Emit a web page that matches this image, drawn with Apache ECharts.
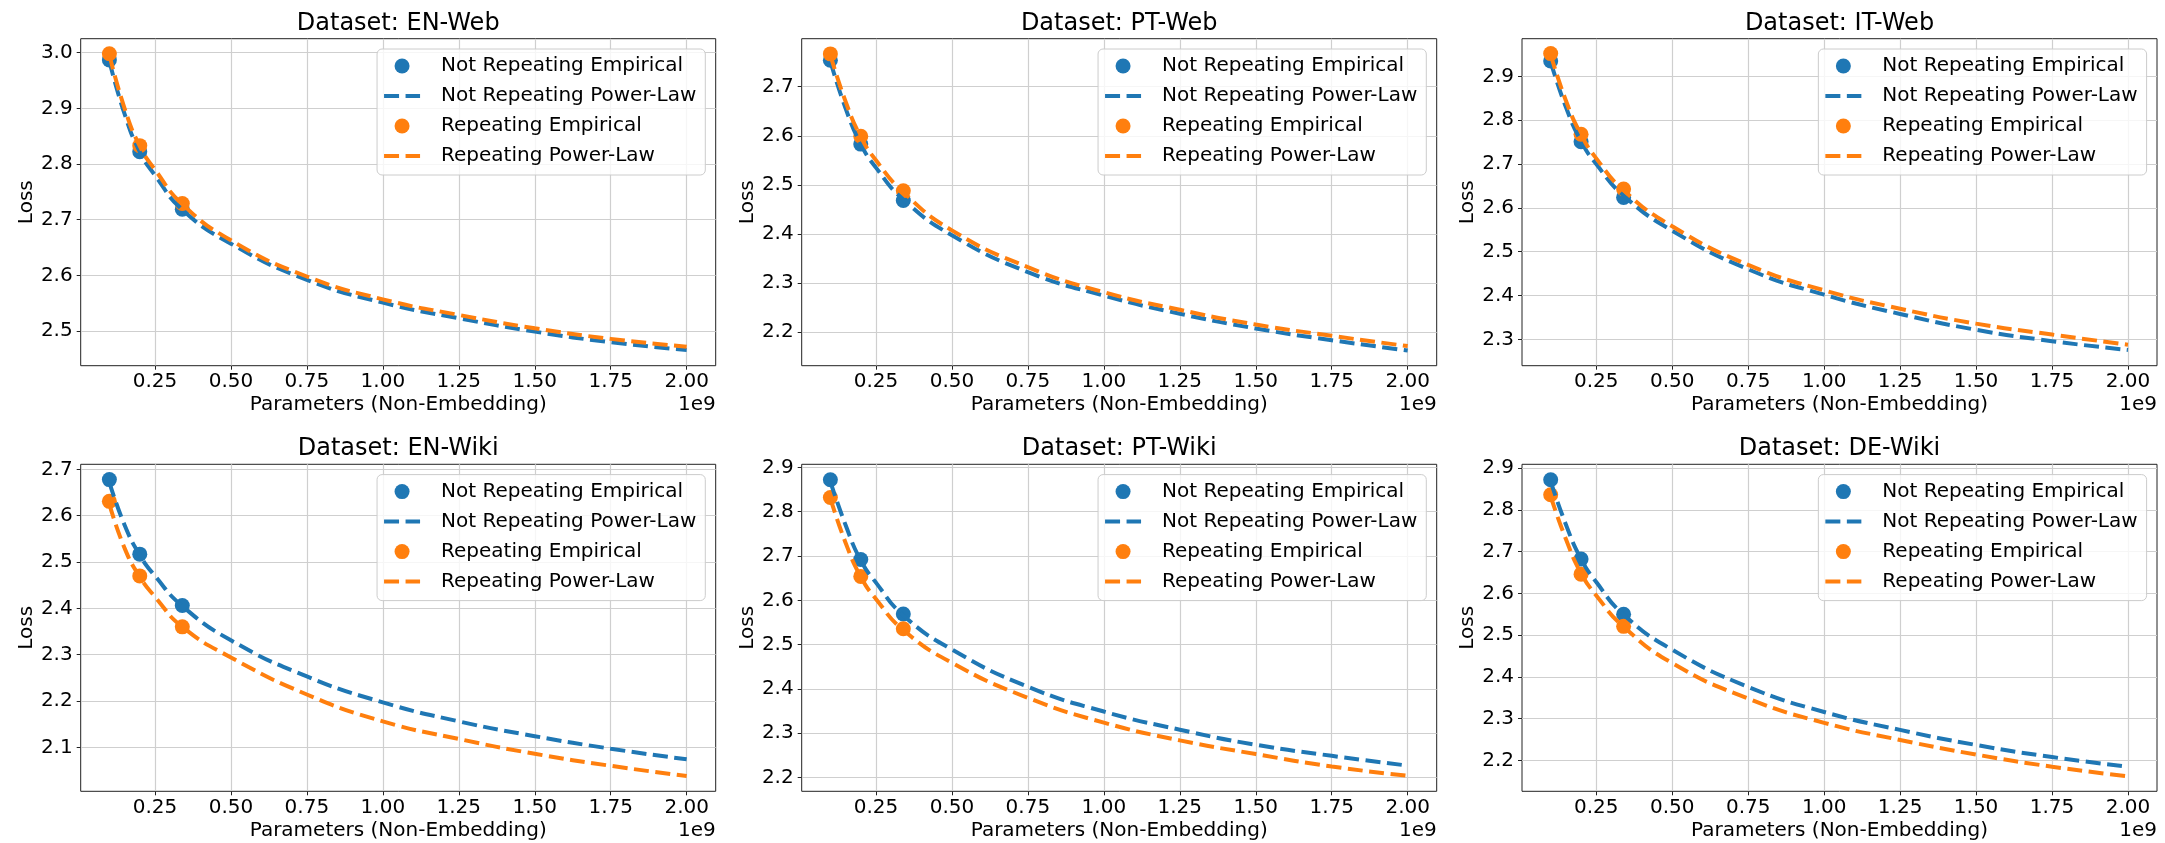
<!DOCTYPE html>
<html>
<head>
<meta charset="utf-8">
<script src="https://cdn.jsdelivr.net/npm/echarts@6/dist/echarts.min.js"></script>
<style>
  html, body { margin: 0; padding: 0; background: #fff; }
  #chart { width: 2165px; height: 843px; }
</style>
</head>
<body>
<div id="chart"></div>
<script>
// one panel per dataset
const datasets = ['EN-Web', 'PT-Web', 'IT-Web', 'EN-Wiki', 'PT-Wiki', 'DE-Wiki'];

// model sizes, non-embedding parameters (x 1e9)
const sizes = [0.1, 0.2, 0.34];

// empirical losses, per dataset
const notRepEmp = [
  [2.987, 2.822, 2.719],
  [2.754, 2.583, 2.468],
  [2.935, 2.751, 2.624],
  [2.678, 2.517, 2.406],
  [2.872, 2.692, 2.569],
  [2.872, 2.682, 2.550]
];
const repEmp = [
  [2.998, 2.833, 2.729],
  [2.767, 2.599, 2.488],
  [2.952, 2.768, 2.643],
  [2.631, 2.470, 2.360],
  [2.832, 2.654, 2.536],
  [2.836, 2.646, 2.521]
];

// fitted power-law curves
const fitX = [0.1, 0.15, 0.2, 0.25, 0.34, 0.5, 0.75, 1.0, 1.25, 1.5, 1.75, 2.0];
const notRepFit = [
  [2.985, 2.890, 2.822, 2.780, 2.718, 2.657, 2.592, 2.551, 2.523, 2.499, 2.480, 2.466],
  [2.752, 2.656, 2.583, 2.535, 2.470, 2.397, 2.322, 2.274, 2.237, 2.207, 2.183, 2.162],
  [2.933, 2.830, 2.752, 2.700, 2.628, 2.548, 2.460, 2.402, 2.358, 2.322, 2.296, 2.276],
  [2.672, 2.580, 2.515, 2.470, 2.405, 2.331, 2.253, 2.197, 2.156, 2.124, 2.097, 2.074],
  [2.868, 2.770, 2.690, 2.640, 2.566, 2.489, 2.405, 2.349, 2.308, 2.274, 2.249, 2.227],
  [2.868, 2.765, 2.682, 2.627, 2.549, 2.465, 2.376, 2.316, 2.273, 2.237, 2.208, 2.185]
];
const repFit = [
  [2.996, 2.900, 2.832, 2.790, 2.728, 2.663, 2.598, 2.557, 2.529, 2.505, 2.486, 2.472],
  [2.765, 2.670, 2.598, 2.550, 2.485, 2.407, 2.332, 2.281, 2.245, 2.215, 2.192, 2.171],
  [2.950, 2.845, 2.767, 2.713, 2.640, 2.558, 2.470, 2.412, 2.370, 2.336, 2.311, 2.288],
  [2.625, 2.530, 2.468, 2.425, 2.360, 2.294, 2.214, 2.156, 2.118, 2.086, 2.060, 2.038],
  [2.830, 2.730, 2.653, 2.603, 2.533, 2.459, 2.380, 2.324, 2.284, 2.253, 2.225, 2.204],
  [2.832, 2.730, 2.648, 2.595, 2.520, 2.433, 2.348, 2.290, 2.249, 2.214, 2.185, 2.162]
];

// axis limits and ticks
const xMin = 0.0056, xMax = 2.0955;
const xTicks = [0.25, 0.5, 0.75, 1.0, 1.25, 1.5, 1.75, 2.0];
const yMin = [2.4378, 2.131, 2.240, 2.005, 2.169, 2.126];
const yMax = [3.0251, 2.798, 2.986, 2.711, 2.907, 2.909];
const yTicks = [
  [2.5, 2.6, 2.7, 2.8, 2.9, 3.0],
  [2.2, 2.3, 2.4, 2.5, 2.6, 2.7],
  [2.3, 2.4, 2.5, 2.6, 2.7, 2.8, 2.9],
  [2.1, 2.2, 2.3, 2.4, 2.5, 2.6, 2.7],
  [2.2, 2.3, 2.4, 2.5, 2.6, 2.7, 2.8, 2.9],
  [2.2, 2.3, 2.4, 2.5, 2.6, 2.7, 2.8, 2.9]
];

const FONT = 'DejaVu Sans';
const BLUE = '#1f77b4', ORANGE = '#ff7f0e';
const DASH = [15, 6.5];
// legend icon for the dashed lines: two dashes, 36 x 4
const DASH_ICON = 'path://M0,0H15V4H0ZM21.5,0H36V4H21.5Z';
const colLeft = [80.7, 801.7, 1522];
const rowTop = [38.7, 464.3];
const W = 635, H = 327;
const names = ['Not Repeating Empirical', 'Not Repeating Power-Law', 'Repeating Empirical', 'Repeating Power-Law'];

const grids = [], xAxes = [], yAxes = [], series = [], legends = [], graphics = [];

datasets.forEach(function (ds, i) {
  const left = colLeft[i % 3], top = rowTop[Math.floor(i / 3)];
  grids.push({
    left: left, top: top, width: W, height: H,
    show: true, borderColor: '#222', borderWidth: 1,
    containLabel: false, outerBoundsMode: 'none'
  });
  xAxes.push({
    type: 'value', gridIndex: i, min: xMin, max: xMax,
    name: 'Parameters (Non-Embedding)', nameLocation: 'middle', nameGap: 29,
    nameTextStyle: { fontFamily: FONT, fontSize: 20, color: '#000' },
    axisLine: { show: false },
    axisTick: { show: true, length: 4, customValues: xTicks, lineStyle: { color: '#222' } },
    axisLabel: {
      customValues: xTicks, margin: 6,
      fontFamily: FONT, fontSize: 20, color: '#000',
      formatter: function (v) { return v.toFixed(2); }
    },
    splitLine: { show: true, lineStyle: { color: '#cfcfcf', width: 1.2 } }
  });
  yAxes.push({
    type: 'value', gridIndex: i, min: yMin[i], max: yMax[i],
    name: 'Loss', nameLocation: 'middle', nameGap: 44,
    nameTextStyle: { fontFamily: FONT, fontSize: 20, color: '#000' },
    axisLine: { show: false },
    axisTick: { show: true, length: 4, customValues: yTicks[i], lineStyle: { color: '#222' } },
    axisLabel: {
      customValues: yTicks[i], margin: 8,
      fontFamily: FONT, fontSize: 20, color: '#000',
      formatter: function (v) { return v.toFixed(1); }
    },
    splitLine: { show: true, lineStyle: { color: '#cfcfcf', width: 1.2 } }
  });

  series.push({
    name: names[0], type: 'scatter', xAxisIndex: i, yAxisIndex: i,
    symbolSize: 15, itemStyle: { color: BLUE, opacity: 1 },
    data: sizes.map(function (x, j) { return [x, notRepEmp[i][j]]; })
  });
  series.push({
    name: names[1], type: 'line', xAxisIndex: i, yAxisIndex: i,
    smooth: true, symbol: 'none',
    itemStyle: { color: BLUE },
    lineStyle: { color: BLUE, width: 4, type: DASH },
    data: fitX.map(function (x, j) { return [x, notRepFit[i][j]]; })
  });
  series.push({
    name: names[2], type: 'scatter', xAxisIndex: i, yAxisIndex: i,
    symbolSize: 15, itemStyle: { color: ORANGE, opacity: 1 },
    data: sizes.map(function (x, j) { return [x, repEmp[i][j]]; })
  });
  series.push({
    name: names[3], type: 'line', xAxisIndex: i, yAxisIndex: i,
    smooth: true, symbol: 'none',
    itemStyle: { color: ORANGE },
    lineStyle: { color: ORANGE, width: 4, type: DASH },
    data: fitX.map(function (x, j) { return [x, repFit[i][j]]; })
  });

  legends.push({
    data: names.map(function (n) {
      return n.indexOf('Power-Law') >= 0 ? { name: n, icon: DASH_ICON } : { name: n, icon: 'circle' };
    }),
    orient: 'vertical', selectedMode: false,
    right: 2165 - (left + W - 10.4), top: top + 10.3,
    itemWidth: 36, itemHeight: 15, itemGap: 10,
    symbolKeepAspect: true,
    padding: [7, 9, 9, 7],
    backgroundColor: 'rgba(255,255,255,0.8)',
    borderColor: '#cccccc', borderWidth: 1, borderRadius: 5,
    textStyle: { fontFamily: FONT, fontSize: 20, color: '#000', padding: [0, 0, 0, 16] }
  });

  // panel title
  graphics.push({
    type: 'text', x: left + W / 2, y: top - 15.4,
    style: { text: 'Dataset: ' + ds, fontFamily: FONT, fontSize: 24, fill: '#000', align: 'center', verticalAlign: 'middle' }
  });
  // axis offset text
  graphics.push({
    type: 'text', x: left + W, y: top + H + 39,
    style: { text: '1e9', fontFamily: FONT, fontSize: 20, fill: '#000', align: 'right', verticalAlign: 'middle' }
  });
});

const chart = echarts.init(document.getElementById('chart'), null, { renderer: 'canvas' });
chart.setOption({
  animation: false,
  backgroundColor: '#fff',
  grid: grids,
  xAxis: xAxes,
  yAxis: yAxes,
  legend: legends,
  series: series,
  graphic: graphics
});
</script>
</body>
</html>
